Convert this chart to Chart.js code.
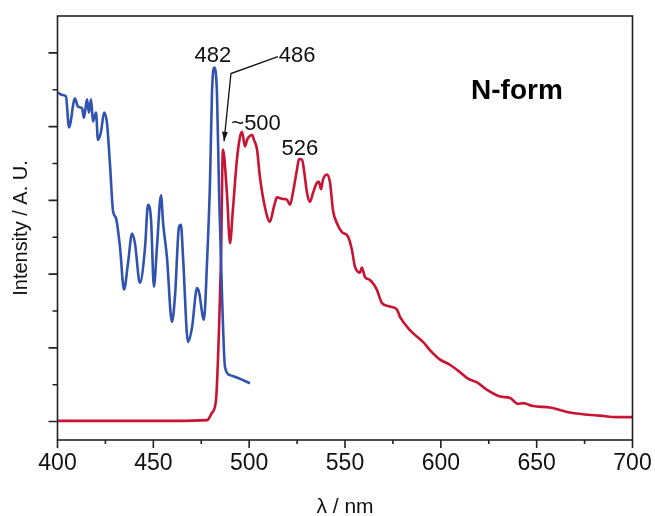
<!DOCTYPE html>
<html>
<head>
<meta charset="utf-8">
<script src="https://cdn.jsdelivr.net/npm/chart.js@4"></script>
<style>
  body { margin: 0; background: #fff; }
  canvas { display: block; }
</style>
</head>
<body>
<canvas id="chart" width="655" height="516"></canvas>
<script>
// excitation spectrum (blue)
const excWavelength = [400.3, 402.3, 404.4, 406.0, 409.1, 410.7, 412.8, 413.8, 415.4, 416.4, 417.5, 418.5, 420.1, 421.1, 422.7, 424.3, 425.8, 427.4, 429.0, 430.5, 432.6, 434.7, 436.8, 438.9, 440.4, 443.0, 445.7, 447.2, 448.8, 450.3, 451.9, 454.0, 455.1, 457.1, 459.7, 461.3, 463.4, 464.4, 465.5, 468.1, 470.2, 472.8, 473.8, 476.4, 478.0, 479.6, 480.6, 481.7, 483.2, 484.3, 485.8, 487.4, 490.0, 494.2, 500.4];
const excIntensity = [4.46, 4.43, 4.41, 3.99, 4.38, 4.27, 4.25, 4.12, 4.37, 4.19, 4.37, 4.07, 4.19, 3.82, 3.93, 4.19, 4.05, 3.48, 2.85, 2.76, 2.37, 1.79, 2.15, 2.55, 2.42, 1.88, 2.37, 2.94, 2.74, 1.83, 2.37, 3.07, 2.69, 2.23, 1.35, 1.70, 2.64, 2.67, 2.23, 1.08, 1.28, 1.81, 1.76, 1.38, 2.15, 3.28, 4.46, 4.80, 4.46, 3.10, 1.74, 0.74, 0.63, 0.59, 0.52];

// emission spectrum (red)
const emWavelength = [400, 420, 440, 460, 478.0, 480.6, 482.7, 484.3, 485.3, 486.3, 488.4, 490.0, 491.5, 493.6, 495.2, 496.3, 497.8, 498.9, 499.9, 501.5, 502.5, 504.1, 505.6, 508.2, 510.8, 512.9, 514.5, 517.6, 519.7, 521.3, 522.8, 524.9, 526.0, 527.6, 528.6, 530.2, 531.7, 533.3, 535.4, 536.4, 537.5, 538.5, 540.6, 542.2, 543.7, 545.8, 548.4, 551.5, 553.6, 555.2, 557.8, 558.8, 560.4, 563.0, 566.6, 569.2, 573.4, 577.1, 578.7, 583.9, 587.6, 590.7, 594.3, 599.6, 604.8, 610.0, 613.7, 618.9, 624.1, 630.9, 636.1, 640.3, 642.9, 648.1, 657.0, 665.8, 674.2, 683.0, 691.9, 700];
const emIntensity = [0.01, 0.01, 0.01, 0.01, 0.02, 0.12, 0.29, 1.28, 2.19, 3.69, 3.10, 2.42, 2.87, 3.55, 3.86, 3.93, 3.73, 3.82, 3.86, 3.89, 3.82, 3.69, 3.32, 2.91, 2.71, 2.91, 3.04, 3.02, 3.01, 2.94, 3.10, 3.41, 3.56, 3.55, 3.41, 3.10, 2.98, 3.10, 3.24, 3.25, 3.15, 3.28, 3.35, 3.24, 2.87, 2.69, 2.57, 2.51, 2.33, 2.10, 2.02, 2.09, 1.96, 1.92, 1.79, 1.61, 1.56, 1.52, 1.42, 1.24, 1.15, 1.08, 0.97, 0.84, 0.77, 0.67, 0.59, 0.53, 0.43, 0.34, 0.32, 0.24, 0.25, 0.21, 0.19, 0.13, 0.10, 0.08, 0.06, 0.06];

const xTicks = [400, 425, 450, 475, 500, 525, 550, 575, 600, 625, 650, 675, 700];
const yTicks = [0, 0.5, 1, 1.5, 2, 2.5, 3, 3.5, 4, 4.5, 5];

// peak labels, anchored at text baseline in data units
const labels = [
    { text: '482', x: 481.1, y: 4.87, bold: false },
    { text: '486', x: 525.0, y: 4.88, bold: false },
    { text: '~500', x: 503.6, y: 3.96, bold: false },
    { text: '526', x: 526.5, y: 3.62, bold: false },
    { text: 'N-form', x: 639.7, y: 4.38, bold: true }
];
const arrowPath = [[515.0, 4.95], [490.5, 4.72], [486.9, 3.80]];

const toPoints = (xs, ys) => xs.map((x, i) => ({ x: x, y: ys[i] }));
const FONT = "'Liberation Sans', Arial, sans-serif";

const framePlugin = {
    id: 'frame',
    afterDraw(chart) {
        const { ctx, chartArea: a, scales: { x, y } } = chart;
        ctx.save();
        ctx.strokeStyle = '#222';
        ctx.lineWidth = 1.6;
        ctx.strokeRect(a.left, a.top, a.right - a.left, a.bottom - a.top);

        ctx.beginPath();
        xTicks.forEach(v => {
            const px = x.getPixelForValue(v);
            const len = v % 50 === 0 ? 8 : 4;
            ctx.moveTo(px, a.bottom);
            ctx.lineTo(px, a.bottom + len);
        });
        yTicks.forEach(v => {
            const py = y.getPixelForValue(v);
            const len = v % 1 === 0 ? 9 : 5;
            ctx.moveTo(a.left, py);
            ctx.lineTo(a.left - len, py);
        });
        ctx.stroke();

        // arrow to 486 peak
        ctx.strokeStyle = '#111';
        ctx.lineWidth = 1.3;
        ctx.beginPath();
        arrowPath.forEach((p, i) => {
            const px = x.getPixelForValue(p[0]), py = y.getPixelForValue(p[1]);
            if (i === 0) ctx.moveTo(px, py); else ctx.lineTo(px, py);
        });
        ctx.stroke();
        const tip = arrowPath[arrowPath.length - 1], prev = arrowPath[arrowPath.length - 2];
        const tx = x.getPixelForValue(tip[0]), ty = y.getPixelForValue(tip[1]);
        const ang = Math.atan2(ty - y.getPixelForValue(prev[1]), tx - x.getPixelForValue(prev[0]));
        ctx.fillStyle = '#111';
        ctx.beginPath();
        ctx.moveTo(tx, ty);
        ctx.lineTo(tx - 10 * Math.cos(ang - 0.3), ty - 10 * Math.sin(ang - 0.3));
        ctx.lineTo(tx - 10 * Math.cos(ang + 0.3), ty - 10 * Math.sin(ang + 0.3));
        ctx.closePath();
        ctx.fill();

        ctx.textAlign = 'center';
        ctx.textBaseline = 'alphabetic';
        labels.forEach(l => {
            ctx.font = l.bold ? 'bold 28px ' + FONT : '22px ' + FONT;
            ctx.fillStyle = l.bold ? '#000' : '#111';
            ctx.fillText(l.text, x.getPixelForValue(l.x), y.getPixelForValue(l.y));
        });
        ctx.restore();
    }
};

new Chart(document.getElementById('chart'), {
    type: 'line',
    data: {
        datasets: [{
            label: 'Excitation',
            data: toPoints(excWavelength, excIntensity),
            borderColor: '#3052b0',
            borderWidth: 2.6,
            pointRadius: 0,
            cubicInterpolationMode: 'monotone'
        }, {
            label: 'Emission',
            data: toPoints(emWavelength, emIntensity),
            borderColor: '#c81432',
            borderWidth: 2.6,
            pointRadius: 0,
            cubicInterpolationMode: 'monotone'
        }]
    },
    options: {
        responsive: false,
        animation: false,
        devicePixelRatio: 1,
        layout: { padding: { top: 16, right: 22.5, left: 0, bottom: 0 } },
        plugins: {
            legend: { display: false },
            tooltip: { enabled: false }
        },
        scales: {
            x: {
                type: 'linear',
                min: 400,
                max: 700,
                afterFit: s => { s.height = 76; },
                border: { display: false },
                grid: { drawOnChartArea: false, tickLength: 8, tickColor: 'transparent' },
                ticks: {
                    stepSize: 50,
                    color: '#111',
                    padding: 2,
                    maxRotation: 0,
                    font: { family: FONT, size: 23 }
                },
                title: {
                    display: true,
                    text: 'λ / nm',
                    color: '#111',
                    padding: { top: 0, bottom: 0 },
                    font: { family: FONT, size: 21, lineHeight: 0.85 }
                }
            },
            y: {
                min: -0.25,
                max: 5.5,
                afterFit: s => { s.width = 57.5; },
                border: { display: false },
                grid: { drawOnChartArea: false, drawTicks: false },
                ticks: { display: false },
                title: {
                    display: true,
                    text: 'Intensity / A. U.',
                    color: '#111',
                    padding: { top: 9, bottom: 0 },
                    font: { family: FONT, size: 20 }
                }
            }
        }
    },
    plugins: [framePlugin]
});
</script>
</body>
</html>
